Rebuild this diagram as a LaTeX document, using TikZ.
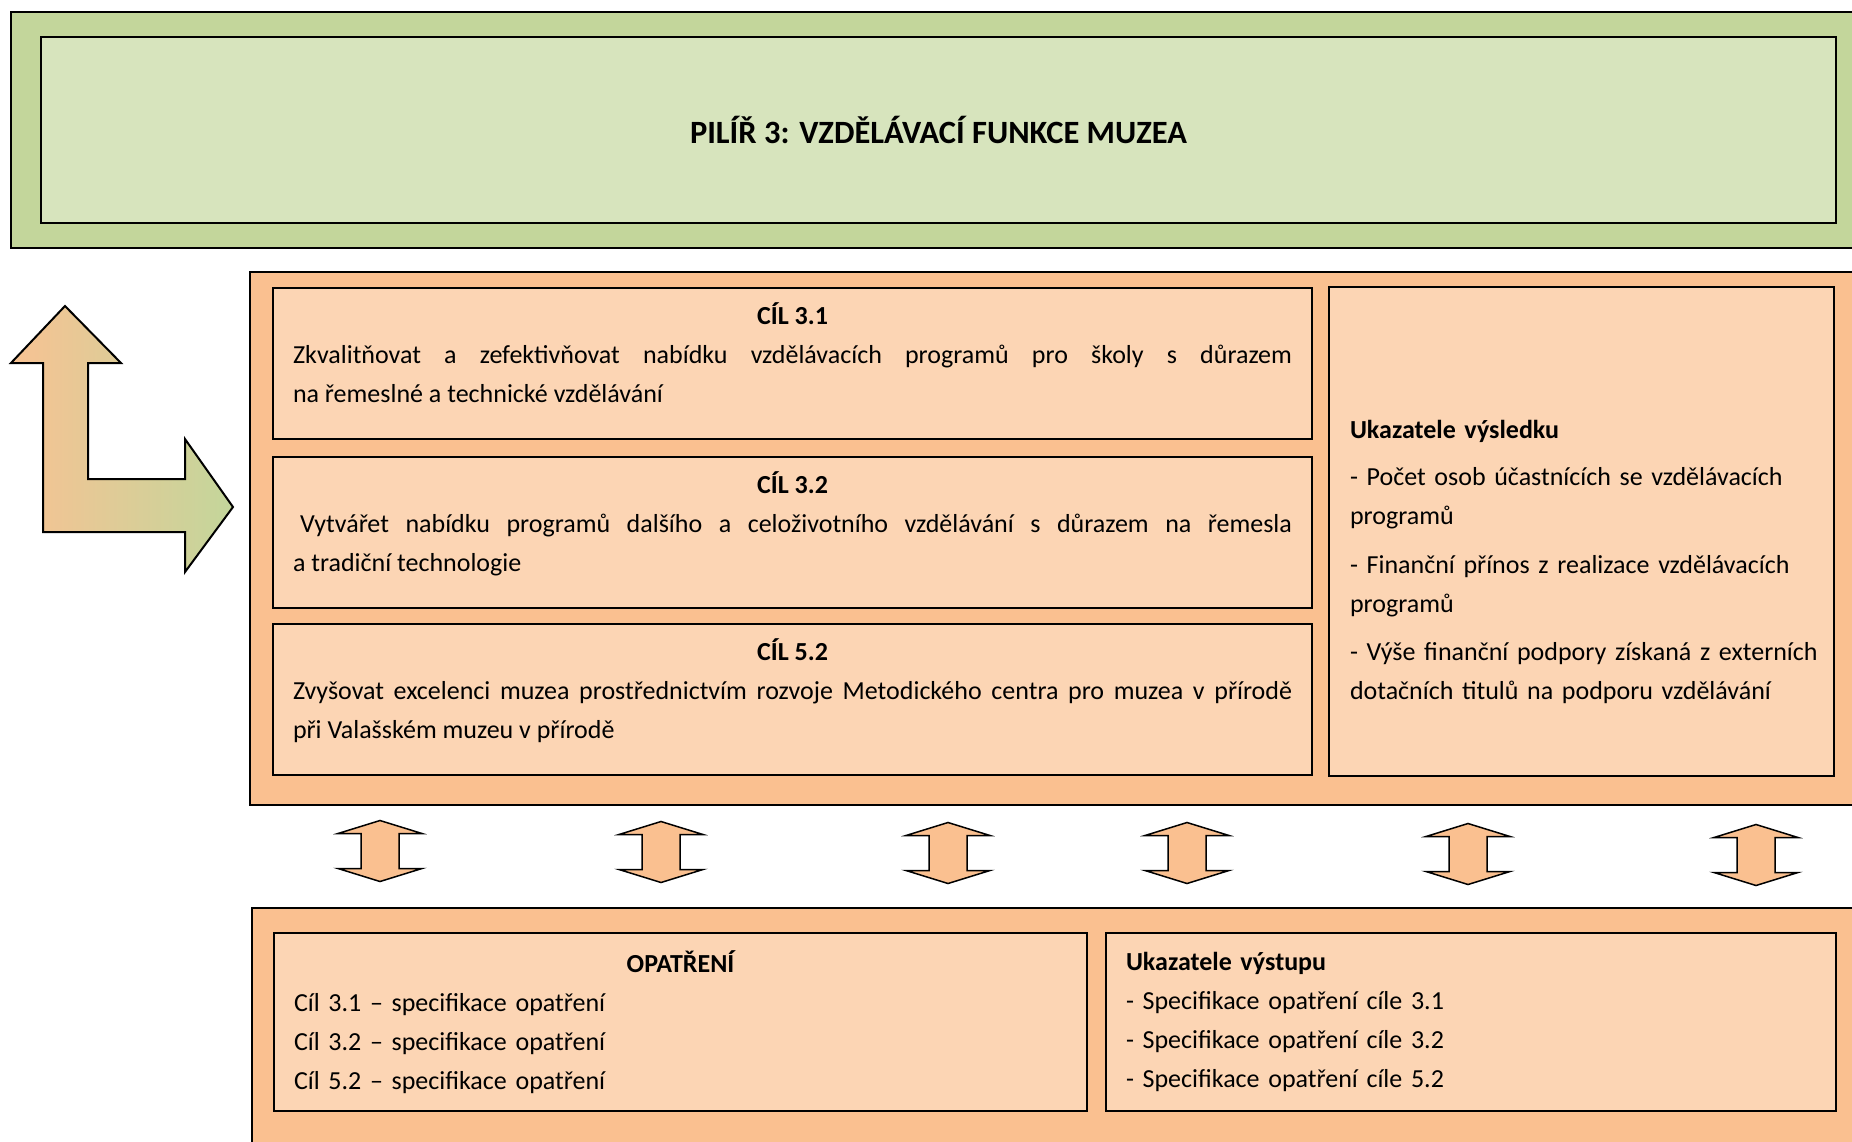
\documentclass[tikz,border=0pt]{standalone}
\usepackage{fontspec}
\setmainfont{Carlito}
\definecolor{zelenaTmava}{HTML}{C3D69B}
\definecolor{zelenaSvetla}{HTML}{D7E4BD}
\definecolor{oranzTmava}{HTML}{FAC090}
\definecolor{oranzSvetla}{HTML}{FCD5B4}
\definecolor{oranzSipka}{HTML}{F8C293}
\setlength{\parindent}{0pt}
\hyphenpenalty=10000
\exhyphenpenalty=10000
\newcommand{\textpilir}{\fontsize{26}{39}\selectfont}

\begin{document}
\begin{tikzpicture}[x=1pt, y=-1pt,
	ramec/.style={draw, line width=2pt, inner sep=0pt},
	cilbox/.style={ramec, fill=oranzSvetla, minimum width=1039pt,
		minimum height=151pt, text width=999pt, align=justify,
		text depth=99pt, font=\textpilir},
	dvojsipka/.style={draw=black, line width=1.5pt, fill=oranzTmava, line join=miter}]
	\useasboundingbox (0,0) rectangle (1852,1141);
	\clip (0,0) rectangle (1852,1141);
	% Pilir nahore
	\node[ramec, fill=zelenaTmava, minimum width=1859pt, minimum height=236pt]
		(pilirram) at (940.5,130) {};
	\node[ramec, fill=zelenaSvetla, minimum width=1795pt, minimum height=186pt,
		font=\fontsize{32.5}{39}\selectfont\bfseries]
		(pilir) at (938.5,130) {PILÍŘ 3: VZDĚLÁVACÍ FUNKCE MUZEA};
	% Cile
	\node[ramec, fill=oranzTmava, minimum width=1620pt, minimum height=533pt]
		(horni) at (1060,538.5) {};
	\node[cilbox] (cil31) at (792.5,363.5) {
		{\centering\bfseries CÍL 3.1\par}
		Zkvalitňovat a zefektivňovat nabídku vzdělávacích programů pro školy s důrazem\linebreak
		na řemeslné a technické vzdělávání
	};
	\node[cilbox] (cil32) at (792.5,532.5) {
		{\centering\bfseries CÍL 3.2\par}
		\hspace*{7pt}Vytvářet nabídku programů dalšího a celoživotního vzdělávání s důrazem na řemesla\linebreak
		a tradiční technologie
	};
	\node[cilbox] (cil52) at (792.5,699.5) {
		{\centering\bfseries CÍL 5.2\par}
		Zvyšovat excelenci muzea prostřednictvím rozvoje Metodického centra pro muzea v přírodě\linebreak
		při Valašském muzeu v přírodě
	};
	\node[ramec, fill=oranzSvetla, minimum width=505pt, minimum height=489pt,
		text width=463pt, align=left, font=\textpilir] (vysledek) at (1581.5,531.5) {
		\rule{0pt}{79pt}\textbf{Ukazatele výsledku}\\[8.5pt]
		- Počet osob účastnících se vzdělávacích\\
		programů\\[9.5pt]
		- Finanční přínos z realizace vzdělávacích\\
		programů\\[9.5pt]
		\mbox{- Výše finanční podpory získaná z externích}\\
		dotačních titulů na podporu vzdělávání
	};
	% Obousmerne sipky
	\foreach \x/\y in {380/851, 661/852, 948/853, 1187/853, 1468/854, 1756/855} {
		\begin{scope}[shift={(\x,\y)}]
			\draw[dvojsipka] (0,-30.5) -- (42,-17.5) -- (19,-17.5) -- (19,17.5)
				-- (42,17.5) -- (0,30.5) -- (-42,17.5) -- (-19,17.5)
				-- (-19,-17.5) -- (-42,-17.5) -- cycle;
		\end{scope}
	}
	% Opatreni dole
	\node[ramec, fill=oranzTmava, minimum width=1618pt, minimum height=252pt]
		(dolni) at (1061,1034) {};
	\node[ramec, fill=oranzSvetla, minimum width=813pt, minimum height=178pt,
		text width=773pt, align=left, font=\textpilir] (opatreni) at (680.5,1022) {
		{\centering\bfseries OPATŘENÍ\par}
		Cíl 3.1 – specifikace opatření\\
		Cíl 3.2 – specifikace opatření\\
		Cíl 5.2 – specifikace opatření
	};
	\node[ramec, fill=oranzSvetla, minimum width=730pt, minimum height=178pt,
		text width=690pt, align=left, font=\textpilir] (vystup) at (1471,1022) {
		\textbf{Ukazatele výstupu}\\
		- Specifikace opatření cíle 3.1\\
		- Specifikace opatření cíle 3.2\\
		- Specifikace opatření cíle 5.2
	};
	% Zalomena sipka vlevo
	\draw[line width=2pt, line join=miter, left color=oranzSipka, right color=zelenaTmava]
		(65,306) -- (121,363) -- (88,363) -- (88,479) -- (185,479) -- (185,439)
		-- (233,507) -- (185,572) -- (185,532) -- (43,532) -- (43,363) -- (11,363) -- cycle;
\end{tikzpicture}
\end{document}
